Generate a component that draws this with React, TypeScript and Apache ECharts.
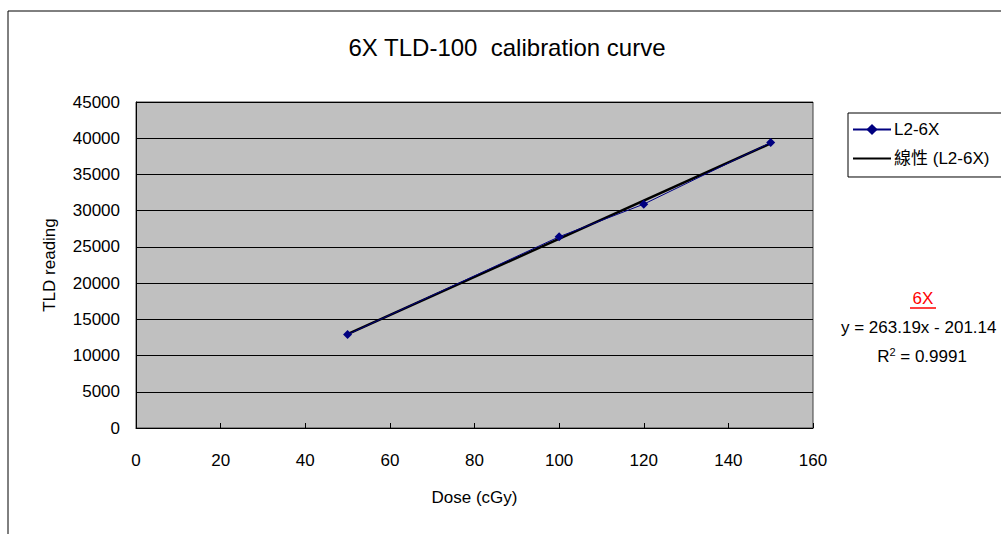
import React, { useEffect, useRef } from "react";
import * as echarts from "echarts";

const doses = [50, 100, 120, 150];
const readings = [12900, 26400, 30900, 39400];
const trendX = [50, 150];
const trendY = [12958, 39277];
const titleText = "6X TLD-100  calibration curve";
const seriesName = "L2-6X";
const trendName = "線性 (L2-6X)";
const eqLabel = "6X";
const eqText = "y = 263.19x - 201.14";
const r2Text = "0.9991";

const FONT = "'Liberation Sans', Arial, 'Noto Sans CJK TC', sans-serif";

export default function App() {
  const ref = useRef<HTMLDivElement>(null);
  useEffect(() => {
    if (!ref.current) return;
    const chart = echarts.init(ref.current, null, { renderer: "svg" });
    chart.setOption({
      animation: false,
      backgroundColor: "#ffffff",
      textStyle: { fontFamily: FONT, color: "#000" },
      title: {
        text: titleText,
        left: 502,
        top: 30,
        textAlign: "center",
        textStyle: { fontFamily: FONT, fontSize: 24, fontWeight: "normal", color: "#000" },
      },
      legend: {
        orient: "vertical",
        left: 848,
        top: 113,
        padding: [8, 40, 10, 4],
        itemGap: 12,
        itemWidth: 38,
        itemHeight: 14,
        backgroundColor: "#fff",
        borderColor: "#000",
        borderWidth: 1,
        borderRadius: 0,
        textStyle: { fontFamily: FONT, fontSize: 17, color: "#000", padding: [0, 0, 0, -2] },
        data: [
          { name: seriesName },
          { name: trendName, icon: "path://M0,0 L20,0 L20,1 L0,1 Z" },
        ],
      },
      grid: {
        left: 136,
        top: 102,
        width: 677,
        height: 326,
        show: true,
        backgroundColor: "#c0c0c0",
        borderColor: "#404040",
        borderWidth: 1,
      },
      xAxis: {
        type: "value",
        min: 0,
        max: 160,
        interval: 20,
        name: "Dose (cGy)",
        nameLocation: "middle",
        nameGap: 61,
        nameTextStyle: { fontFamily: FONT, fontSize: 17, color: "#000" },
        axisLine: { show: true, lineStyle: { color: "#000", width: 1 } },
        axisTick: { show: true, inside: true, length: 5, lineStyle: { color: "#000" } },
        axisLabel: { fontFamily: FONT, fontSize: 17, color: "#000", margin: 24 },
        splitLine: { show: false },
      },
      yAxis: {
        type: "value",
        min: 0,
        max: 45000,
        interval: 5000,
        name: "TLD reading",
        nameLocation: "middle",
        nameGap: 78,
        nameRotate: 90,
        nameTextStyle: { fontFamily: FONT, fontSize: 17, color: "#000" },
        axisLine: { show: true, lineStyle: { color: "#000", width: 1 } },
        axisTick: { show: true, inside: true, length: 5, lineStyle: { color: "#000" } },
        axisLabel: {
          fontFamily: FONT,
          fontSize: 17,
          color: "#000",
          margin: 16,
          formatter: (v: number) => String(v),
        },
        splitLine: { show: true, lineStyle: { color: "#000", width: 1 } },
      },
      series: [
        {
          name: seriesName,
          type: "line",
          data: doses.map((d, i) => [d, readings[i]]),
          symbol: "diamond",
          symbolSize: 9,
          itemStyle: { color: "#000080" },
          lineStyle: { color: "#000080", width: 1 },
          z: 3,
        },
        {
          name: trendName,
          type: "line",
          data: trendX.map((d, i) => [d, trendY[i]]),
          symbol: "none",
          itemStyle: { color: "#000" },
          lineStyle: { color: "#000", width: 2.5 },
          z: 2,
        },
      ],
      graphic: [
        {
          type: "rect",
          shape: { x: 8, y: 11, width: 1200, height: 700 },
          style: { fill: "none", stroke: "#000", lineWidth: 1 },
          silent: true,
          z: 0,
        },
        {
          type: "text",
          x: 923,
          y: 298,
          style: {
            text: eqLabel,
            fontFamily: FONT,
            fontSize: 17,
            fill: "#ff0000",
            align: "center",
            verticalAlign: "middle",
          },
        },
        {
          type: "line",
          shape: { x1: 910, y1: 308, x2: 936, y2: 308 },
          style: { stroke: "#ff0000", lineWidth: 1.5 },
        },
        {
          type: "text",
          x: 841,
          y: 327,
          style: {
            text: eqText,
            fontFamily: FONT,
            fontSize: 17,
            fill: "#000",
            align: "left",
            verticalAlign: "middle",
          },
        },
        {
          type: "text",
          x: 922,
          y: 356,
          style: {
            text: "R{s|2} = " + r2Text,
            fontFamily: FONT,
            fontSize: 17,
            fill: "#000",
            align: "center",
            verticalAlign: "middle",
            rich: {
              s: { fontFamily: FONT, fontSize: 11, verticalAlign: "top", padding: [0, 0, 8, 0] },
            },
          },
        },
      ],
    });
    return () => chart.dispose();
  }, []);
  return (
    <div
      ref={ref}
      style={{ position: "absolute", left: 0, top: 0, width: 1001, height: 534 }}
    />
  );
}
